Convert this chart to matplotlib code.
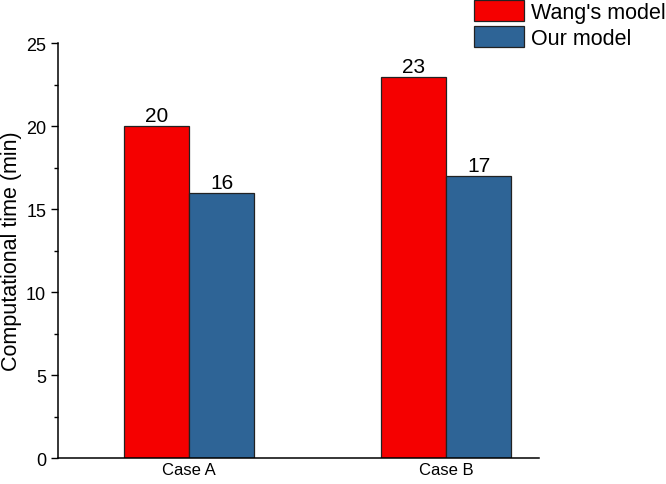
import numpy as np
import matplotlib.pyplot as plt
from matplotlib.ticker import MultipleLocator

plt.rcParams['font.family'] = ['Liberation Sans', 'DejaVu Sans']

cases = ['Case A', 'Case B']
wang = [20, 23]
ours = [16, 17]

x = np.arange(len(cases))
w = 0.253

fig = plt.figure(figsize=(6.66, 4.85), dpi=100)
ax = fig.add_axes([0.087, 0.0536, 0.722, 0.855])

b1 = ax.bar(x - w / 2, wang, w, color='#f50000', edgecolor='#222222', linewidth=0.9, label="Wang's model")
b2 = ax.bar(x + w / 2, ours, w, color='#2e6496', edgecolor='#222222', linewidth=0.9, label='Our model')

# value labels on top of bars
for bars in (b1, b2):
    for b in bars:
        ax.text(b.get_x() + b.get_width() / 2, b.get_height() + 0.05, str(int(b.get_height())),
                ha='center', va='bottom', fontsize=15)

ax.set_xlim(-0.51, 1.36)
ax.set_ylim(0, 25)
ax.set_xticks(x)
ax.set_xticklabels(cases, fontsize=12)
ax.tick_params(axis='x', length=0, pad=3)
ax.yaxis.set_major_locator(MultipleLocator(5))
ax.yaxis.set_minor_locator(MultipleLocator(2.5))
ax.tick_params(axis='y', which='major', length=5, width=1, labelsize=13, direction='out')
ax.tick_params(axis='y', which='minor', length=3, width=1, direction='out')
ax.set_ylabel('Computational time (min)', fontsize=15.5, labelpad=3)
ax.spines['top'].set_visible(False)
ax.spines['right'].set_visible(False)
ax.spines['left'].set_linewidth(1.1)
ax.spines['bottom'].set_linewidth(1.1)

fig.legend(handles=[b1, b2], loc='upper left', bbox_to_anchor=(474 / 666, 1 - 1 / 485), frameon=False,
           fontsize=15.5, handlelength=2.3, handleheight=1.1, handletextpad=0.33,
           labelspacing=0.15, borderpad=0.0, borderaxespad=0.0)

fig.savefig('out.png', dpi=100)
